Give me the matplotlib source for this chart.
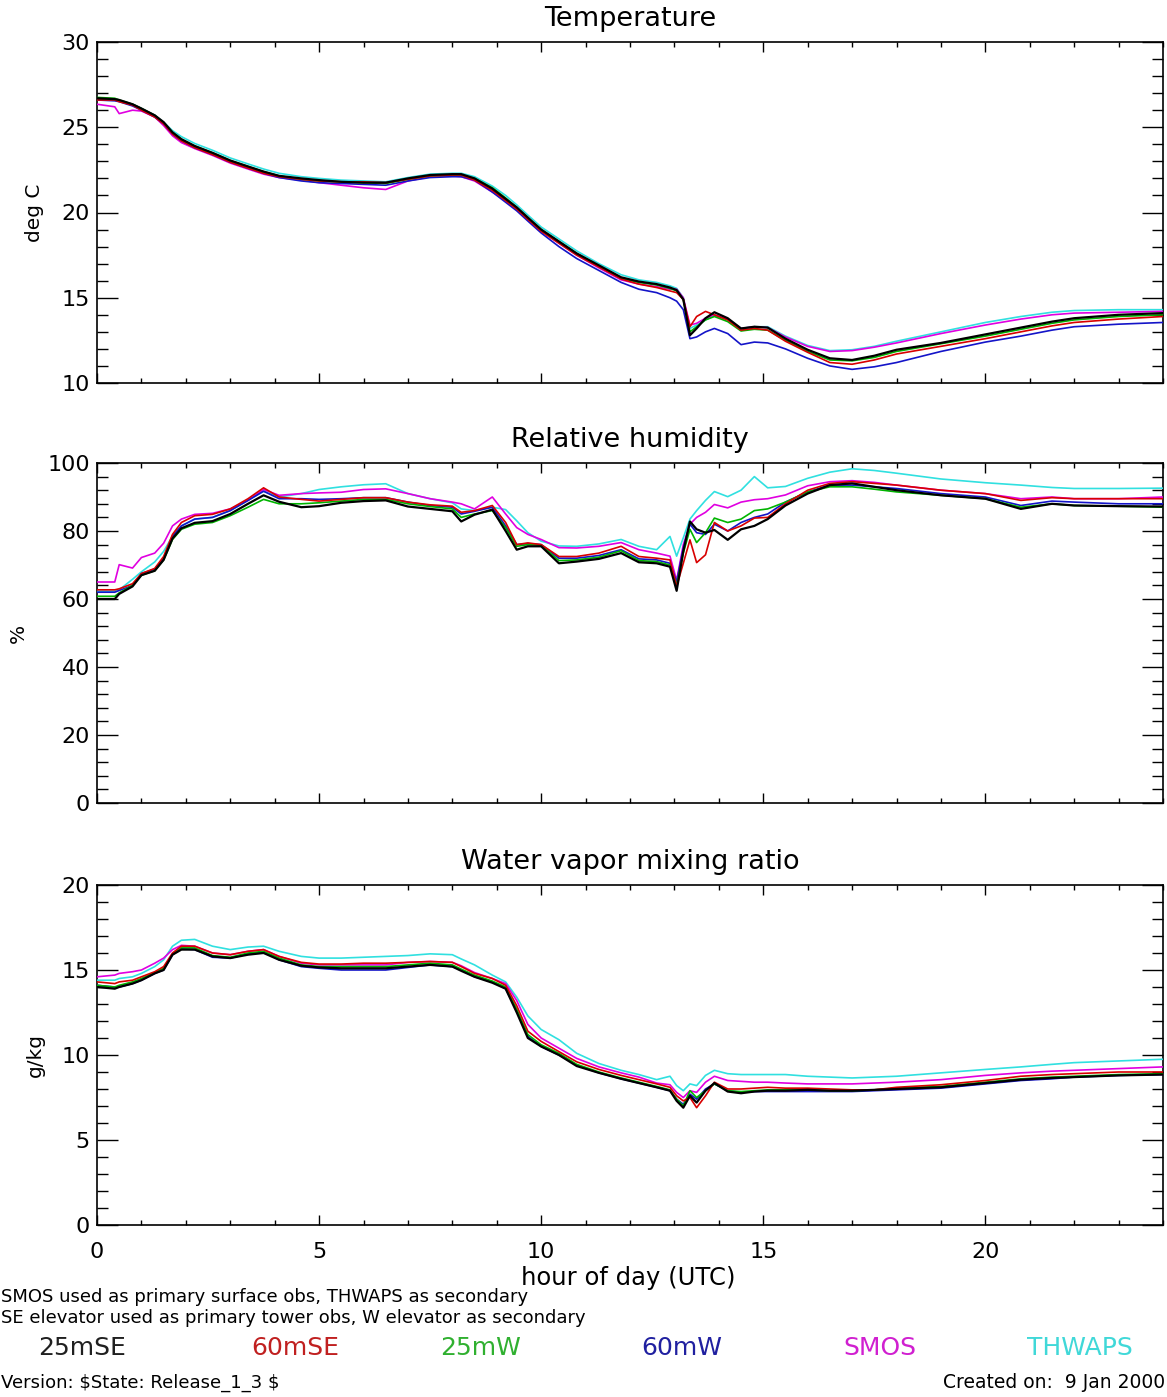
import matplotlib
matplotlib.use("Agg")
import matplotlib.pyplot as plt
from matplotlib.ticker import MultipleLocator

# ---------------- data ----------------
hours = [0, 0.4, 0.5, 0.8, 1.0, 1.3, 1.5, 1.7, 1.9, 2.2,
         2.6, 3.0, 3.4, 3.75, 4.1, 4.6, 5.0, 5.5, 6.0, 6.5,
         7.0, 7.5, 8.0, 8.2, 8.5, 8.9, 9.2, 9.45, 9.7, 10.0,
         10.4, 10.8, 11.3, 11.8, 12.2, 12.6, 12.9, 13.05, 13.2, 13.35,
         13.5, 13.7, 13.9, 14.2, 14.5, 14.8, 15.1, 15.5, 16.0, 16.5,
         17.0, 17.5, 18.0, 19.0, 20.0, 20.8, 21.5, 22.0, 23.0, 24.0]

series_names = ["25mSE", "60mSE", "25mW", "60mW", "SMOS", "THWAPS"]
series_colors = ["#000000", "#d80000", "#00b400", "#1414c8", "#e000e0", "#30e0e0"]
legend_text_colors = ["#202020", "#c02020", "#30b030", "#2020a0", "#d020d0", "#40d8d8"]

# Temperature (deg C)
temp_25mSE = [26.7, 26.65, 26.6, 26.35, 26.1, 25.7, 25.3, 24.7, 24.3, 23.9,
              23.5, 23.05, 22.7, 22.4, 22.15, 22.0, 21.9, 21.8, 21.75, 21.75,
              22.0, 22.2, 22.25, 22.25, 22.0, 21.4, 20.8, 20.3, 19.7, 19.0,
              18.3, 17.6, 16.9, 16.2, 15.95, 15.8, 15.6, 15.45, 14.9, 12.8,
              13.2, 13.8, 14.15, 13.8, 13.2, 13.3, 13.25, 12.6, 11.95, 11.45,
              11.35, 11.6, 11.95, 12.35, 12.85, 13.25, 13.6, 13.8, 14.0, 14.1]
temp_60mSE = [26.6, 26.6, 26.5, 26.3, 26.0, 25.6, 25.2, 24.6, 24.2, 23.8,
              23.4, 22.95, 22.6, 22.3, 22.1, 21.95, 21.85, 21.8, 21.8, 21.75,
              21.95, 22.15, 22.2, 22.2, 21.9, 21.3, 20.7, 20.2, 19.6, 18.9,
              18.2, 17.5, 16.8, 16.1, 15.8, 15.6, 15.4, 15.3, 14.9, 13.3,
              13.9, 14.2, 14.0, 13.7, 13.1, 13.2, 13.1, 12.45, 11.8, 11.2,
              11.1, 11.35, 11.7, 12.15, 12.6, 13.0, 13.35, 13.55, 13.75, 13.9]
temp_25mW = [26.75, 26.7, 26.6, 26.35, 26.1, 25.7, 25.25, 24.7, 24.3, 23.9,
             23.5, 23.05, 22.7, 22.4, 22.15, 21.95, 21.85, 21.8, 21.75, 21.7,
             21.95, 22.15, 22.2, 22.2, 22.0, 21.45, 20.85, 20.3, 19.7, 19.0,
             18.3, 17.6, 16.85, 16.15, 15.9, 15.75, 15.55, 15.4, 14.9, 13.0,
             13.3, 13.7, 13.9, 13.6, 13.05, 13.15, 13.1, 12.5, 11.85, 11.35,
             11.3, 11.5, 11.85, 12.3, 12.75, 13.15, 13.5, 13.7, 13.9, 14.0]
temp_60mW = [26.6, 26.55, 26.5, 26.25, 26.0, 25.6, 25.2, 24.6, 24.2, 23.8,
             23.4, 22.95, 22.6, 22.3, 22.05, 21.85, 21.75, 21.7, 21.65, 21.6,
             21.85, 22.05, 22.1, 22.1, 21.9, 21.2, 20.6, 20.1, 19.5, 18.8,
             18.0, 17.3, 16.6, 15.9, 15.5, 15.3, 15.0, 14.8, 14.3, 12.6,
             12.7, 13.0, 13.2, 12.9, 12.25, 12.4, 12.35, 12.0, 11.45, 11.0,
             10.8, 10.95, 11.2, 11.85, 12.4, 12.75, 13.1, 13.3, 13.45, 13.55]
temp_SMOS = [26.35, 26.2, 25.8, 26.0, 25.95, 25.6, 25.1, 24.5, 24.1, 23.75,
             23.35, 22.9, 22.55, 22.25, 22.05, 21.9, 21.75, 21.6, 21.45, 21.35,
             21.85, 22.1, 22.15, 22.1, 21.85, 21.2, 20.7, 20.2, 19.6, 18.9,
             18.2, 17.5, 16.75, 16.05, 15.8, 15.65, 15.5, 15.5, 15.0, 13.4,
             13.5, 13.8, 14.0, 13.75, 13.2, 13.3, 13.25, 12.7, 12.15, 11.85,
             11.9, 12.1, 12.35, 12.9, 13.4, 13.75, 14.0, 14.1, 14.15, 14.2]
temp_THWAPS = [26.6, 26.6, 26.55, 26.35, 26.1, 25.7, 25.3, 24.8, 24.45, 24.05,
               23.65, 23.2, 22.85, 22.55, 22.3, 22.1, 22.0, 21.9, 21.85, 21.8,
               22.05, 22.25, 22.3, 22.3, 22.1, 21.55, 21.0, 20.45, 19.85, 19.15,
               18.45, 17.75, 17.0, 16.35, 16.05, 15.9, 15.7, 15.55, 15.0, 13.2,
               13.4, 13.7, 13.95, 13.7, 13.2, 13.3, 13.3, 12.75, 12.2, 11.9,
               11.95, 12.15, 12.45, 13.0, 13.55, 13.9, 14.15, 14.25, 14.3, 14.3]

# Relative humidity (%)
rh_25mSE = [60.0, 60.0, 61.5, 63.7, 67.0, 68.3, 71.5, 77.8, 80.8, 82.4,
            82.9, 85.0, 88.0, 90.5, 88.6, 87.0, 87.3, 88.3, 88.8, 89.0,
            87.2, 86.5, 85.8, 82.8, 84.8, 86.3, 80.0, 74.5, 75.5, 75.5,
            70.5, 71.0, 71.8, 73.5, 70.8, 70.5, 69.5, 62.4, 74.0, 82.8,
            80.5, 79.5, 80.3, 77.4, 80.5, 81.5, 83.5, 87.5, 91.0, 93.5,
            94.0, 93.0, 92.0, 90.5, 89.5, 86.5, 88.0, 87.5, 87.3, 87.2]
rh_60mSE = [62.7, 62.7, 63.0, 64.5, 67.5, 69.0, 72.5, 79.0, 82.5, 84.5,
            84.9, 86.5, 89.5, 92.7, 90.0, 89.3, 88.8, 89.3, 89.8, 89.8,
            88.5, 87.7, 87.3, 85.5, 86.0, 87.5, 82.5, 76.0, 76.5, 76.0,
            72.5, 72.5, 73.5, 75.5, 72.5, 72.0, 71.5, 63.7, 70.5, 77.4,
            70.7, 73.0, 82.5, 80.0, 81.5, 83.8, 84.0, 88.0, 92.0, 94.0,
            94.5, 94.0, 93.5, 92.0, 91.0, 89.0, 89.8, 89.5, 89.5, 89.5]
rh_25mW = [60.8, 60.8, 61.8, 64.0, 67.0, 68.3, 71.5, 77.5, 80.5, 82.0,
           82.5, 84.5, 87.0, 89.3, 88.0, 88.0, 88.3, 88.8, 89.3, 89.3,
           88.0, 87.2, 86.5, 84.0, 85.0, 86.0, 81.0, 75.5, 76.0, 75.8,
           71.3, 71.5, 72.3, 74.2, 71.3, 71.0, 70.0, 64.0, 73.5, 80.5,
           76.6, 79.5, 83.8, 82.5, 83.5, 86.0, 86.5, 88.5, 91.5, 93.0,
           93.0, 92.3, 91.5, 90.5, 89.5, 87.0, 88.0, 87.5, 87.3, 87.0]
rh_60mW = [62.0, 62.0, 62.5, 64.0, 67.5, 68.8, 72.0, 78.5, 81.5, 83.5,
           84.0, 86.0, 89.0, 91.7, 89.5, 89.5, 89.3, 89.5, 89.8, 89.8,
           88.5, 87.5, 87.0, 85.0, 85.8, 87.0, 81.5, 76.0, 76.3, 76.0,
           72.0, 72.0, 72.8, 74.5, 71.8, 71.5, 70.5, 65.0, 75.0, 82.0,
           79.5, 79.0, 82.0, 80.0, 82.5, 84.0, 85.0, 88.5, 91.5, 93.5,
           93.5, 93.0, 92.5, 91.0, 90.0, 87.5, 88.8, 88.5, 88.0, 88.0]
rh_SMOS = [65.0, 65.0, 70.1, 69.1, 72.2, 73.5, 76.4, 81.5, 83.5, 84.9,
           85.2, 86.5, 89.0, 92.2, 90.5, 91.0, 91.2, 91.4, 92.2, 92.4,
           91.0, 89.5, 88.5, 88.0, 86.5, 90.0, 85.0, 81.0, 79.0, 77.5,
           75.1, 75.0, 75.5, 76.6, 74.5, 73.5, 72.6, 65.5, 76.0, 82.0,
           84.0, 85.5, 87.8, 86.8, 88.5, 89.2, 89.5, 90.6, 93.3, 94.5,
           94.8, 94.3, 93.5, 92.0, 91.0, 89.5, 90.0, 89.5, 89.5, 90.0]
rh_THWAPS = [62.3, 62.3, 62.7, 65.8, 68.0, 70.9, 74.0, 78.5, 81.5, 83.5,
             84.0, 86.0, 89.0, 91.7, 90.0, 91.0, 92.2, 93.0, 93.6, 93.9,
             91.0, 89.5, 88.3, 86.5, 86.0, 87.0, 86.3, 83.0, 79.5, 77.0,
             75.6, 75.5, 76.2, 77.5, 75.5, 74.5, 78.4, 72.6, 78.0, 83.5,
             86.0, 89.0, 91.6, 90.1, 92.0, 96.0, 92.7, 93.1, 95.5, 97.3,
             98.3, 97.8, 97.0, 95.3, 94.2, 93.5, 92.8, 92.5, 92.5, 92.6]

# Water vapor mixing ratio (g/kg)
wv_25mSE = [14.0, 13.9, 14.0, 14.2, 14.4, 14.8, 15.0, 15.9, 16.2, 16.2,
            15.8, 15.7, 15.9, 16.0, 15.6, 15.25, 15.15, 15.1, 15.1, 15.1,
            15.2, 15.3, 15.2, 14.95, 14.6, 14.25, 13.9, 12.5, 11.0, 10.5,
            10.0, 9.35, 8.95, 8.6, 8.35, 8.1, 7.9, 7.3, 6.9, 7.6,
            7.2, 7.9, 8.35, 7.85, 7.75, 7.85, 7.9, 7.9, 7.95, 7.9,
            7.9, 7.95, 8.0, 8.1, 8.35, 8.55, 8.65, 8.7, 8.8, 8.85]
wv_60mSE = [14.3, 14.2, 14.3, 14.4, 14.6, 14.9, 15.2, 16.0, 16.4, 16.4,
            16.0, 15.9, 16.1, 16.2, 15.8, 15.45, 15.35, 15.35, 15.4, 15.4,
            15.45, 15.5, 15.45, 15.2, 14.8, 14.5, 14.1, 12.9, 11.4, 10.8,
            10.2, 9.6, 9.15, 8.8, 8.55, 8.3, 8.1, 7.6, 7.3, 7.5,
            6.9, 7.6, 8.4, 8.0, 8.0, 8.05, 8.1, 8.05, 8.05, 8.0,
            7.95, 7.95, 8.1, 8.25, 8.5, 8.75, 8.85, 8.9, 9.0, 9.0]
wv_25mW = [14.1, 14.0, 14.1, 14.3, 14.5, 14.85, 15.1, 15.95, 16.3, 16.3,
           15.85, 15.75, 16.0, 16.1, 15.7, 15.3, 15.2, 15.2, 15.2, 15.2,
           15.3, 15.4, 15.3, 15.05, 14.7, 14.35, 14.0, 12.7, 11.2, 10.6,
           10.1, 9.45, 9.0, 8.65, 8.4, 8.15, 7.95, 7.4, 7.0, 7.9,
           7.5, 7.9, 8.3, 7.9, 7.85, 7.9, 7.95, 7.95, 7.95, 7.9,
           7.9, 7.95, 8.05, 8.15, 8.4, 8.6, 8.7, 8.75, 8.85, 8.9]
wv_60mW = [14.1, 14.0, 14.0, 14.2, 14.4, 14.8, 15.0, 15.9, 16.25, 16.2,
           15.75, 15.7, 15.95, 16.05, 15.6, 15.2, 15.1, 15.0, 15.0, 15.0,
           15.15, 15.3, 15.2, 15.0, 14.6, 14.3, 13.9, 12.6, 11.1, 10.5,
           10.0, 9.4, 8.95, 8.6, 8.35, 8.1, 7.9, 7.4, 7.1, 7.7,
           7.4, 8.0, 8.3, 7.9, 7.8, 7.85, 7.85, 7.85, 7.85, 7.85,
           7.85, 7.9, 7.95, 8.05, 8.3, 8.5, 8.6, 8.7, 8.8, 8.85]
wv_SMOS = [14.6, 14.7, 14.8, 14.9, 15.0, 15.4, 15.7, 16.2, 16.45, 16.4,
           16.0, 15.9, 16.1, 16.2, 15.8, 15.4, 15.3, 15.3, 15.3, 15.3,
           15.45, 15.5, 15.45, 15.25, 14.85, 14.5, 14.2, 13.2, 11.8, 11.0,
           10.4, 9.8, 9.3, 8.95, 8.7, 8.35, 8.25, 7.8, 7.5, 7.9,
           7.8, 8.4, 8.75, 8.5, 8.45, 8.4, 8.4, 8.35, 8.3, 8.3,
           8.3, 8.35, 8.4, 8.55, 8.8, 8.95, 9.05, 9.1, 9.2, 9.3]
wv_THWAPS = [14.4, 14.4, 14.5, 14.6, 14.8, 15.2, 15.6, 16.4, 16.75, 16.8,
             16.4, 16.2, 16.35, 16.4, 16.1, 15.8, 15.7, 15.7, 15.75, 15.8,
             15.85, 15.95, 15.9, 15.65, 15.3, 14.7, 14.3, 13.4, 12.3, 11.5,
             10.9, 10.1, 9.5, 9.1, 8.85, 8.55, 8.75, 8.2, 7.9, 8.3,
             8.2, 8.8, 9.1, 8.9, 8.85, 8.85, 8.85, 8.85, 8.75, 8.7,
             8.65, 8.7, 8.75, 8.95, 9.15, 9.3, 9.45, 9.55, 9.65, 9.75]

x_ticks = [0, 5, 10, 15, 20]
panel_titles = ["Temperature", "Relative humidity", "Water vapor mixing ratio"]
panel_ylabels = ["deg C", "%", "g/kg"]
footer_line1 = "SMOS used as primary surface obs, THWAPS as secondary"
footer_line2 = "SE elevator used as primary tower obs, W elevator as secondary"
version_text = "Version: $State: Release_1_3 $"
created_text = "Created on:  9 Jan 2000"
xlabel_text = "hour of day (UTC)"

# ---------------- figure ----------------
W, H = 1167, 1397
fig = plt.figure(figsize=(W / 100, H / 100), dpi=100)
plt.rcParams['font.family'] = ['DejaVu Sans']


def rect(top, bottom, left=97, right=1163):
    return [left / W, 1 - bottom / H, (right - left) / W, (bottom - top) / H]


panels = [
    dict(top=42, bottom=383, data=[temp_25mSE, temp_60mSE, temp_25mW, temp_60mW, temp_SMOS, temp_THWAPS],
         ylim=(10, 30), minor=1, yticks=[10, 15, 20, 25, 30], ylabel_x=35),
    dict(top=463, bottom=803, data=[rh_25mSE, rh_60mSE, rh_25mW, rh_60mW, rh_SMOS, rh_THWAPS],
         ylim=(0, 100), minor=4, yticks=[0, 20, 40, 60, 80, 100], ylabel_x=18),
    dict(top=885, bottom=1225, data=[wv_25mSE, wv_60mSE, wv_25mW, wv_60mW, wv_SMOS, wv_THWAPS],
         ylim=(0, 20), minor=1, yticks=[0, 5, 10, 15, 20], ylabel_x=35),
]

draw_order = [5, 4, 3, 2, 1, 0]
for i, p in enumerate(panels):
    ax = fig.add_axes(rect(p['top'], p['bottom']))
    for k in draw_order:
        ax.plot(hours, p['data'][k], color=series_colors[k],
                lw=1.6 if k == 0 else 1.2, zorder=3 + (6 - k) * 0.1)
    ax.set_xlim(0, 24)
    ax.set_ylim(*p['ylim'])
    ax.set_xticks(x_ticks)
    ax.xaxis.set_minor_locator(MultipleLocator(1))
    ax.set_yticks(p['yticks'])
    ax.yaxis.set_minor_locator(MultipleLocator(p['minor']))
    ax.tick_params(axis='both', which='both', direction='in', top=True, right=True,
                   width=1.0, colors='black')
    ax.tick_params(axis='y', which='major', length=15, pad=5, labelsize=16)
    ax.tick_params(axis='y', which='minor', length=8)
    ax.tick_params(axis='x', which='major', length=7, pad=12, labelsize=16)
    ax.tick_params(axis='x', which='minor', length=3.8)
    if i < 2:
        ax.tick_params(axis='x', which='both', labelbottom=False)
    for s in ax.spines.values():
        s.set_linewidth(1.2)
    fig.text(630 / W, 1 - (p['top'] - 23) / H, panel_titles[i], ha='center', va='center',
             fontsize=19.5)
    fig.text(p['ylabel_x'] / W, 1 - ((p['top'] + p['bottom']) / 2) / H, panel_ylabels[i],
             rotation=90, ha='center', va='center', fontsize=14.5)

fig.text(628 / W, 1 - 1278 / H, xlabel_text, ha='center', va='center', fontsize=17.5)
fig.text(1 / W, 1 - 1297 / H, footer_line1, ha='left', va='center', fontsize=13)
fig.text(1 / W, 1 - 1318 / H, footer_line2, ha='left', va='center', fontsize=13)

legend_x = [82, 295, 481, 682, 880, 1080]
for name, col, lx in zip(series_names, legend_text_colors, legend_x):
    fig.text(lx / W, 1 - 1348 / H, name, ha='center', va='center', fontsize=18, color=col)

fig.text(1 / W, 1 - 1383 / H, version_text, ha='left', va='center', fontsize=13,
         parse_math=False)
fig.text(1165 / W, 1 - 1383 / H, created_text, ha='right', va='center', fontsize=13.5)

fig.savefig("out.png", dpi=100, facecolor='white')
